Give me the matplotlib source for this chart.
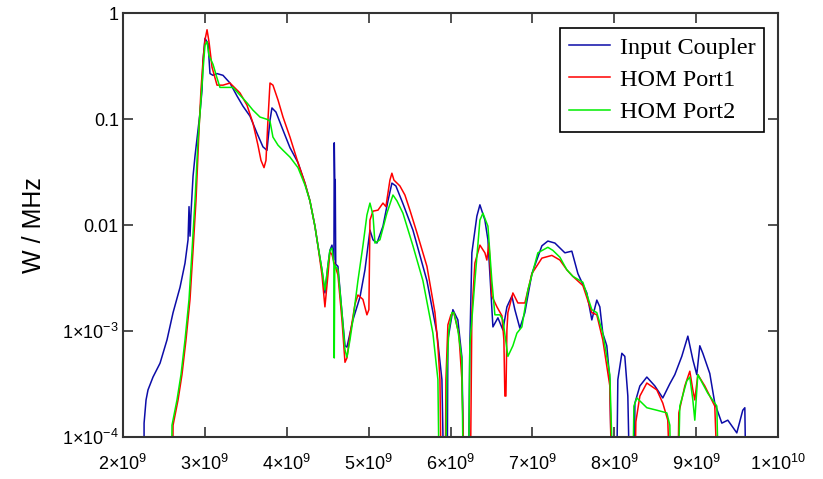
import numpy as np
import matplotlib
matplotlib.use('Agg')
import matplotlib.pyplot as plt
from matplotlib.ticker import NullLocator

plt.rcParams['font.family'] = 'Liberation Sans'
plt.rcParams['mathtext.default'] = 'regular'

# frequency in GHz, power in W/MHz (values below 1e-4 drop off the plot)
coupler_f = [2.256, 2.257, 2.281, 2.305, 2.366, 2.452, 2.537, 2.611, 2.696, 2.757,
             2.794, 2.806, 2.818, 2.830, 2.855, 2.879, 2.916, 2.940, 2.965, 2.977,
             3.001, 3.038, 3.062, 3.099, 3.148, 3.221, 3.306, 3.392, 3.465, 3.551,
             3.636, 3.709, 3.758, 3.795, 3.819, 3.868, 3.954, 4.039, 4.137, 4.222,
             4.283, 4.344, 4.381, 4.430, 4.466, 4.503, 4.527, 4.552, 4.576, 4.580,
             4.586, 4.592, 4.598, 4.625, 4.674, 4.711, 4.735, 4.772, 4.808, 4.894,
             4.955, 5.016, 5.053, 5.101, 5.175, 5.236, 5.284, 5.333, 5.419, 5.541,
             5.627, 5.712, 5.834, 5.895, 5.932, 5.956, 5.968, 6.029, 6.090, 6.139,
             6.176, 6.212, 6.236, 6.261, 6.322, 6.359, 6.420, 6.457, 6.505, 6.518,
             6.579, 6.640, 6.689, 6.750, 6.786, 6.847, 6.908, 6.994, 7.116, 7.189,
             7.275, 7.397, 7.482, 7.556, 7.665, 7.726, 7.787, 7.824, 7.860, 7.909,
             7.946, 7.983, 8.020, 8.044, 8.093, 8.129, 8.166, 8.203, 8.240, 8.252,
             8.313, 8.398, 8.496, 8.593, 8.679, 8.740, 8.825, 8.899, 8.960, 9.008,
             9.045, 9.082, 9.167, 9.228, 9.314, 9.387, 9.497, 9.570, 9.595, 9.619]
coupler_p = [1e-5, 1.36e-4, 2.25e-4, 2.8e-4, 3.7e-4, 5.0e-4, 8.3e-4, 1.5e-3, 2.6e-3, 4.4e-3,
             7.3e-3, 0.015, 7.9e-3, 0.013, 0.029, 0.045, 0.079, 0.115, 0.19, 0.36,
             0.58, 0.52, 0.27, 0.26, 0.27, 0.26, 0.22, 0.166, 0.133, 0.107,
             0.074, 0.055, 0.051, 0.098, 0.128, 0.117, 0.079, 0.054, 0.039, 0.025,
             0.017, 9.8e-3, 6.4e-3, 3.8e-3, 2.3e-3, 4.2e-3, 5.8e-3, 6.5e-3, 4.7e-3, 0.06,
             0.027, 0.027, 4.3e-3, 4.1e-3, 1.5e-3, 7.3e-4, 7.1e-4, 9.6e-4, 1.28e-3, 2.1e-3,
             3.8e-3, 9.0e-3, 7.3e-3, 6.8e-3, 9.8e-3, 0.017, 0.025, 0.0235, 0.016, 9.0e-3,
             5.2e-3, 3.0e-3, 9.6e-4, 3.5e-4, 1e-5, 1e-5, 8.3e-4, 1.6e-3, 1.28e-3, 5.7e-4,
             1e-5, 1e-5, 7.3e-4, 5.5e-3, 0.0122, 0.0156, 0.0112, 7.3e-3, 1.7e-3, 1.1e-3,
             1.34e-3, 1.03e-3, 1.7e-3, 2.15e-3, 1.6e-3, 1.07e-3, 1.5e-3, 3.5e-3, 6.4e-3, 7.1e-3,
             6.8e-3, 5.5e-3, 5.7e-3, 3.5e-3, 2.3e-3, 1.28e-3, 1.97e-3, 1.7e-3, 9.6e-4, 7.3e-4,
             3.5e-4, 1e-5, 1e-5, 3.5e-4, 6.2e-4, 5.8e-4, 2.45e-4, 1e-5, 1e-5, 2.1e-4,
             3.05e-4, 3.7e-4, 3.05e-4, 2.35e-4, 3.2e-4, 3.9e-4, 5.8e-4, 9.0e-4, 5.4e-4, 3.9e-4,
             7.3e-4, 6.2e-4, 4.0e-4, 2.1e-4, 1.36e-4, 1.45e-4, 1.1e-4, 1.8e-4, 1.9e-4, 1e-5]

port1_f = [2.598, 2.611, 2.672, 2.720, 2.769, 2.818, 2.855, 2.891, 2.928, 2.952,
           2.977, 3.001, 3.026, 3.050, 3.087, 3.148, 3.221, 3.306, 3.429, 3.514,
           3.587, 3.648, 3.685, 3.722, 3.746, 3.770, 3.795, 3.831, 3.893, 3.954,
           4.039, 4.137, 4.222, 4.283, 4.344, 4.381, 4.430, 4.466, 4.503, 4.527,
           4.552, 4.576, 4.625, 4.674, 4.711, 4.735, 4.772, 4.833, 4.869, 4.930,
           4.979, 5.003, 5.016, 5.053, 5.114, 5.175, 5.211, 5.260, 5.284, 5.309,
           5.382, 5.443, 5.504, 5.590, 5.712, 5.810, 5.846, 5.871, 5.895, 5.932,
           5.944, 5.968, 6.005, 6.041, 6.102, 6.139, 6.188, 6.236, 6.261, 6.298,
           6.359, 6.420, 6.444, 6.469, 6.505, 6.567, 6.628, 6.652, 6.664, 6.677,
           6.689, 6.701, 6.762, 6.823, 6.908, 6.994, 7.116, 7.238, 7.336, 7.421,
           7.494, 7.617, 7.726, 7.787, 7.860, 7.946, 7.983, 8.240, 8.264, 8.313,
           8.398, 8.520, 8.593, 8.654, 8.703, 8.764, 8.789, 8.862, 8.923, 8.960,
           8.984, 9.021, 9.106, 9.228, 9.289]
port1_p = [1e-5, 1.3e-4, 2.25e-4, 3.9e-4, 8.3e-4, 2.0e-3, 5.8e-3, 0.017, 0.079, 0.19,
           0.36, 0.56, 0.70, 0.54, 0.31, 0.21, 0.21, 0.22, 0.177, 0.136,
           0.092, 0.057, 0.041, 0.035, 0.041, 0.098, 0.22, 0.21, 0.152, 0.105,
           0.068, 0.039, 0.025, 0.017, 9.8e-3, 6.4e-3, 3.4e-3, 1.7e-3, 3.4e-3, 5.6e-3,
           5.3e-3, 4.5e-3, 3.4e-3, 1.28e-3, 5.1e-4, 5.6e-4, 9.2e-4, 1.8e-3, 2.2e-3, 2.0e-3,
           1.43e-3, 1.6e-3, 0.0112, 0.0136, 0.0139, 0.0162, 0.015, 0.0267, 0.031, 0.0267,
           0.0235, 0.0193, 0.0139, 8.5e-3, 4.1e-3, 1.5e-3, 7.3e-4, 3.5e-4, 1e-5, 1e-5,
           3.5e-4, 1.15e-3, 1.43e-3, 1.5e-3, 9.4e-4, 3.5e-4, 1e-5, 1e-5, 1.5e-3, 4.4e-3,
           6.5e-3, 5.5e-3, 4.7e-3, 6.8e-3, 2.15e-3, 1.7e-3, 1.4e-3, 8.3e-4, 2.45e-4, 2.45e-4,
           1.03e-3, 1.5e-3, 2.3e-3, 1.85e-3, 1.85e-3, 3.5e-3, 4.9e-3, 5.2e-3, 4.7e-3, 3.8e-3,
           3.3e-3, 2.7e-3, 1.5e-3, 1.43e-3, 8.3e-4, 3.05e-4, 1e-5, 1e-5, 1.4e-4, 2.45e-4,
           3.25e-4, 2.8e-4, 2.1e-4, 1.45e-4, 1e-5, 1e-5, 1.7e-4, 3.05e-4, 4.2e-4, 2.8e-4,
           2.25e-4, 3.9e-4, 3.05e-4, 1.97e-4, 1e-5]

port2_f = [2.586, 2.598, 2.659, 2.708, 2.757, 2.806, 2.843, 2.879, 2.916, 2.952,
           2.977, 3.001, 3.026, 3.050, 3.099, 3.148, 3.184, 3.270, 3.343, 3.429,
           3.514, 3.587, 3.673, 3.758, 3.795, 3.831, 3.893, 3.954, 4.039, 4.137,
           4.222, 4.283, 4.344, 4.381, 4.430, 4.466, 4.503, 4.527, 4.552, 4.576,
           4.580, 4.586, 4.625, 4.674, 4.711, 4.735, 4.772, 4.808, 4.869, 4.930,
           4.979, 5.016, 5.053, 5.077, 5.138, 5.223, 5.297, 5.346, 5.419, 5.541,
           5.663, 5.785, 5.846, 5.871, 5.932, 5.956, 5.980, 6.017, 6.041, 6.090,
           6.139, 6.164, 6.212, 6.236, 6.298, 6.359, 6.396, 6.457, 6.505, 6.542,
           6.603, 6.640, 6.701, 6.762, 6.811, 6.872, 6.945, 7.067, 7.189, 7.250,
           7.336, 7.421, 7.494, 7.617, 7.726, 7.787, 7.860, 7.946, 8.008, 8.215,
           8.240, 8.276, 8.398, 8.520, 8.642, 8.679, 8.703, 8.764, 8.801, 8.886,
           8.923, 8.960, 8.984, 9.021, 9.143, 9.253, 9.289]
port2_p = [1e-5, 1.3e-4, 2.25e-4, 3.9e-4, 8.3e-4, 2.0e-3, 5.8e-3, 0.017, 0.064, 0.152,
           0.29, 0.50, 0.54, 0.40, 0.33, 0.245, 0.20, 0.20, 0.20, 0.169,
           0.143, 0.122, 0.105, 0.100, 0.096, 0.068, 0.057, 0.051, 0.044, 0.035,
           0.024, 0.017, 9.8e-3, 6.4e-3, 3.8e-3, 2.45e-3, 4.2e-3, 5.8e-3, 6.1e-3, 4.2e-3,
           5.6e-4, 4.2e-3, 3.8e-3, 1.5e-3, 6.7e-4, 5.7e-4, 8.3e-4, 1.28e-3, 3.0e-3, 6.4e-3,
           0.0125, 0.0162, 0.0125, 6.8e-3, 7.3e-3, 0.013, 0.0193, 0.017, 0.013, 6.4e-3,
           3.0e-3, 9.6e-4, 3.5e-4, 1e-5, 1e-5, 4.3e-4, 1.03e-3, 1.5e-3, 1.5e-3, 1.03e-3,
           5.4e-4, 1e-5, 1e-5, 7.3e-4, 3.0e-3, 0.0112, 0.013, 9.8e-3, 3.0e-3, 1.43e-3,
           1.43e-3, 1.28e-3, 5.8e-4, 7.3e-4, 9.6e-4, 1.1e-3, 2.45e-3, 5.5e-3, 6.2e-3, 5.8e-3,
           5.0e-3, 3.8e-3, 3.3e-3, 2.9e-3, 1.6e-3, 1.5e-3, 9.6e-4, 3.9e-4, 1e-5, 1e-5,
           1.97e-4, 2.35e-4, 1.9e-4, 1.8e-4, 1.7e-4, 1.3e-4, 1e-5, 1e-5, 1.97e-4, 3.4e-4,
           3.7e-4, 2.25e-4, 1.45e-4, 3.9e-4, 2.6e-4, 1.97e-4, 1e-5]

series = [
    ('Input Coupler', coupler_f, coupler_p, '#0c0ca8'),
    ('HOM Port1', port1_f, port1_p, '#ff0000'),
    ('HOM Port2', port2_f, port2_p, '#00ee00'),
]

xticks = [2e9, 3e9, 4e9, 5e9, 6e9, 7e9, 8e9, 9e9, 1e10]
xlabels = [r'$2{\times}10^{9}$', r'$3{\times}10^{9}$', r'$4{\times}10^{9}$',
           r'$5{\times}10^{9}$', r'$6{\times}10^{9}$', r'$7{\times}10^{9}$',
           r'$8{\times}10^{9}$', r'$9{\times}10^{9}$', r'$1{\times}10^{10}$']
yticks = [1e-4, 1e-3, 1e-2, 1e-1, 1]
ylabels = [r'$1{\times}10^{-4}$', r'$1{\times}10^{-3}$', '0.01', '0.1', '1']

fig = plt.figure(figsize=(8.23, 4.79), dpi=100)
ax = fig.add_axes([0.1495, 0.0871, 0.7958, 0.8851])

for name, f, p, c in series:
    ax.plot(np.array(f) * 1e9, p, color=c, lw=1.1, label=name)

ax.set_yscale('log')
ax.set_xlim(2e9, 1e10)
ax.set_ylim(1e-4, 1)
ax.set_xticks(xticks)
ax.set_xticklabels(xlabels)
ax.set_yticks(yticks)
ax.set_yticklabels(ylabels)
ax.yaxis.set_minor_locator(NullLocator())
ax.xaxis.set_minor_locator(NullLocator())
ax.tick_params(direction='in', length=7, width=1.2, color='#333333',
               top=True, right=True, labelsize=13)
ax.tick_params(axis='x', pad=12)
ax.tick_params(axis='y', pad=3)
for s in ax.spines.values():
    s.set_color('#333333')
    s.set_linewidth(1.5)

ax.set_ylabel('W / MHz', fontsize=18, labelpad=12)

leg = ax.legend(loc='upper right', bbox_to_anchor=(0.979, 0.965), borderaxespad=0,
                fancybox=False, edgecolor='black', framealpha=1,
                prop={'family': 'Liberation Serif', 'size': 17.5},
                handlelength=1.7, handletextpad=0.42, labelspacing=0.42,
                borderpad=0.35)
leg.get_frame().set_linewidth(1.2)

plt.savefig('out.png')
